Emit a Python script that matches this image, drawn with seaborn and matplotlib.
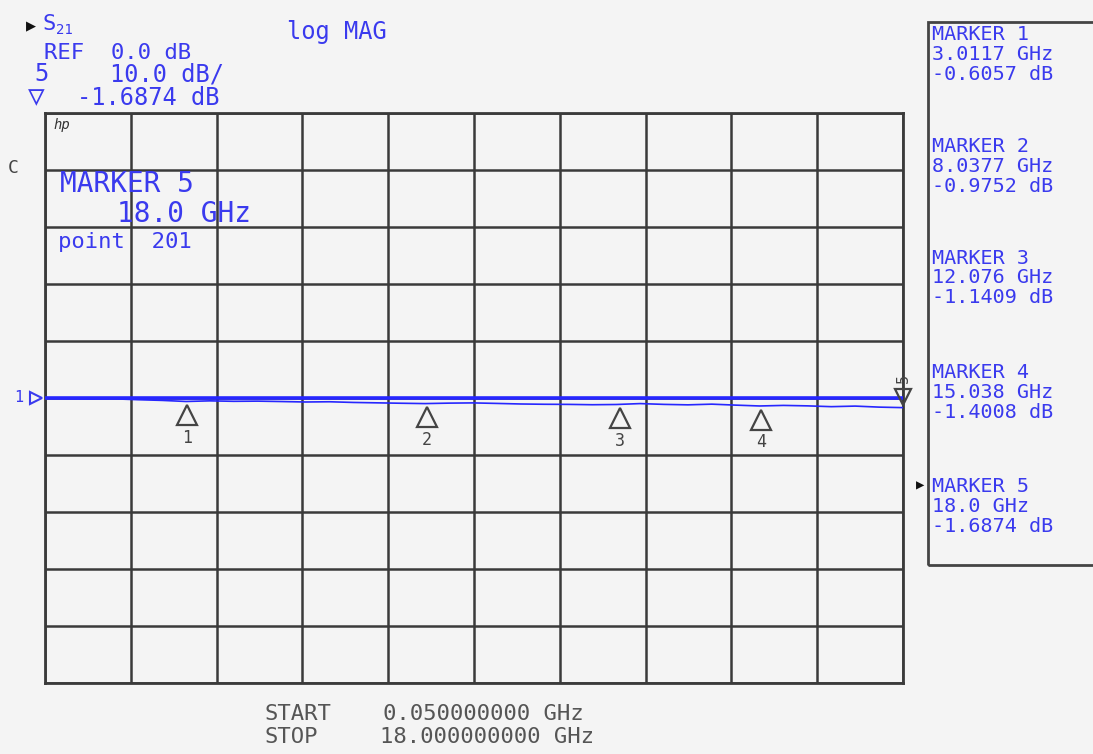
import numpy as np
import pandas as pd
import matplotlib
matplotlib.use("Agg")
import matplotlib.pyplot as plt
import matplotlib.patches as mpatches
from matplotlib.transforms import offset_copy
import seaborn as sns

# trace S21, log MAG
freq_ghz = [0.05, 0.5, 1.0, 1.5, 2.0, 2.5, 3.0, 3.5, 4.0, 4.5, 5.0, 5.5, 6.0,
            6.5, 7.0, 7.5, 8.0, 8.5, 9.0, 9.5, 10.0, 10.5, 11.0, 11.5, 12.0,
            12.5, 13.0, 13.5, 14.0, 14.5, 15.0, 15.5, 16.0, 16.5, 17.0, 17.5, 18.0]
s21_db = [-0.05, -0.12, -0.20, -0.15, -0.30, -0.42, -0.61, -0.50, -0.58, -0.55,
          -0.62, -0.70, -0.66, -0.78, -0.85, -0.92, -0.98, -0.90, -0.86, -0.95,
          -1.05, -1.10, -1.12, -1.18, -1.14, -0.98, -1.12, -1.20, -1.08, -1.25,
          -1.40, -1.30, -1.38, -1.52, -1.42, -1.60, -1.69]

marker_ids = [1, 2, 3, 4, 5]
marker_freq = [3.0117, 8.0377, 12.076, 15.038, 18.0]
marker_db = [-0.6057, -0.9752, -1.1409, -1.4008, -1.6874]
marker_freq_txt = ["3.0117 GHz", "8.0377 GHz", "12.076 GHz", "15.038 GHz", "18.0 GHz"]
marker_db_txt = ["-0.6057 dB", "-0.9752 dB", "-1.1409 dB", "-1.4008 dB", "-1.6874 dB"]

ref_db = 0.0
scale_db = 10.0
start_ghz, stop_ghz = 0.05, 18.0

BG = "#f4f4f4"
BLUE = "#3a3aee"
TRACE = "#2626ff"
GRID = "#3a3a3a"
MONO = ["DejaVu Sans Mono"]

sns.set_style("white", {"axes.facecolor": BG, "figure.facecolor": BG})
plt.rcParams["font.family"] = MONO

fig = plt.figure(figsize=(10.93, 7.54), dpi=100)
W, H = 1093, 754
ax = fig.add_axes([45 / W, 1 - 683 / H, (903 - 45) / W, (683 - 113) / H])

df = pd.DataFrame({"freq": freq_ghz, "s21": s21_db})
ax.axhline(ref_db, color=TRACE, lw=2.6, zorder=3)
sns.lineplot(data=df, x="freq", y="s21", ax=ax, color=TRACE, lw=1.2, zorder=4)

ax.set_xlim(start_ghz, stop_ghz)
ax.set_ylim(ref_db - 5 * scale_db, ref_db + 5 * scale_db)
ax.set_xticks(np.linspace(start_ghz, stop_ghz, 11))
ax.set_yticks(np.linspace(ref_db - 5 * scale_db, ref_db + 5 * scale_db, 11))
ax.grid(True, color=GRID, lw=1.8)
ax.tick_params(length=0, labelbottom=False, labelleft=False)
ax.set_xlabel("")
ax.set_ylabel("")
for sp in ax.spines.values():
    sp.set_color(GRID)
    sp.set_linewidth(2)

# marker symbols under the trace
for mid, f, d in zip(marker_ids, marker_freq, marker_db):
    if mid < 5:
        tri = offset_copy(ax.transData, fig=fig, x=0, y=-10, units="points")
        ax.plot(f, d, marker="^", ms=14, mfc="none", mec="#444444", mew=1.6,
                transform=tri, zorder=5, clip_on=False)
        num = offset_copy(ax.transData, fig=fig, x=0, y=-26, units="points")
        ax.text(f, d, str(mid), transform=num, ha="center", va="center",
                fontsize=12, color="#444444", zorder=5)
    else:
        tri = offset_copy(ax.transData, fig=fig, x=0, y=8, units="points")
        ax.plot(f, d, marker="v", ms=11, mfc="none", mec="#444444", mew=1.6,
                transform=tri, zorder=5, clip_on=False)
        num = offset_copy(ax.transData, fig=fig, x=0, y=21, units="points")
        ax.text(f, d, str(mid), transform=num, ha="center", va="center",
                fontsize=11, color="#444444", rotation=90, zorder=5, clip_on=False)

# reference position indicator
ax.text(-0.031, 0.5, "1", transform=ax.transAxes, ha="center", va="center",
        fontsize=11, color=BLUE)
ax.plot(-0.01, 0.5, marker=">", ms=8, mfc="none", mec=BLUE, mew=1.5,
        transform=ax.transAxes, clip_on=False)

# text inside the graticule
ax.text(8 / 858, 1 - 12 / 570, "hp", transform=ax.transAxes, fontsize=10,
        color="#333333", style="italic", va="center")
ax.text(15 / 858, 1 - 71 / 570, "MARKER 5", transform=ax.transAxes,
        fontsize=20, color=BLUE, va="center")
ax.text(72 / 858, 1 - 101 / 570, "18.0 GHz", transform=ax.transAxes,
        fontsize=20, color=BLUE, va="center")
ax.text(13 / 858, 1 - 129 / 570, "point  201", transform=ax.transAxes,
        fontsize=16, color=BLUE, va="center")

# header text
def ftext(x, y, s, **kw):
    fig.text(x / W, 1 - y / H, s, va="center", **kw)

ftext(26, 26, "\u25b6", fontsize=12, color="#111111")
ftext(42, 24, "S", fontsize=16, color=BLUE)
ftext(56, 30, "21", fontsize=10, color=BLUE)
ftext(44, 53, "REF  0.0 dB", fontsize=16, color=BLUE)
ftext(34, 74, "5", fontsize=17, color=BLUE)
ftext(110, 74, "10.0 dB/", fontsize=17, color=BLUE)
ftext(28, 97, "\u25bd", fontsize=20, color=BLUE)
ftext(77, 98, "-1.6874 dB", fontsize=17, color=BLUE)
ftext(287, 32, "log MAG", fontsize=17, color=BLUE)
ftext(8, 168, "C", fontsize=13, color="#444444")

ftext(265, 714, "START", fontsize=16, color="#555555")
ftext(383, 714, "0.050000000 GHz", fontsize=16, color="#555555")
ftext(265, 737, "STOP", fontsize=16, color="#555555")
ftext(380, 737, "18.000000000 GHz", fontsize=16, color="#555555")

# marker readout panel
box = mpatches.Rectangle((928 / W, 1 - 565 / H), 200 / W, (565 - 22) / H,
                         transform=fig.transFigure, fill=False,
                         edgecolor="#444444", lw=2)
fig.patches.append(box)
panel_y = [35, 147, 258, 373, 487]
for mid, y0, ft, dt in zip(marker_ids, panel_y, marker_freq_txt, marker_db_txt):
    ftext(932, y0, f"MARKER {mid}", fontsize=14.5, color=BLUE)
    ftext(932, y0 + 19, ft, fontsize=14.5, color=BLUE)
    ftext(932, y0 + 39, dt, fontsize=14.5, color=BLUE)
ftext(916, 485, "\u25b6", fontsize=10, color="#111111")

fig.savefig("out.png", dpi=100, facecolor=BG)
plt.close(fig)
